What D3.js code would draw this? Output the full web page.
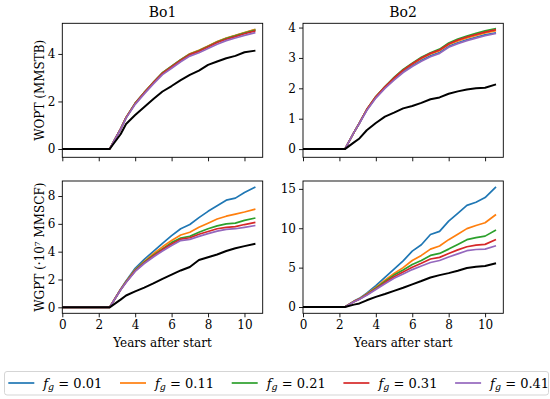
<!DOCTYPE html>
<html>
<head>
<meta charset="utf-8">
<script src="https://cdn.jsdelivr.net/npm/d3@7"></script>
<style>
  body { margin: 0; background: #fff; }
  svg text { font-family: "DejaVu Serif", serif; fill: #000; }
</style>
</head>
<body>
<div id="chart"></div>
<script>
// ---- data ----
var reservoirs = ["Bo1", "Bo2"];
var seriesNames = ["0.01", "0.11", "0.21", "0.31", "0.41"];
var seriesColors = ["#1f77b4", "#ff7f0e", "#2ca02c", "#d62728", "#9467bd"];

var xTicks = [0, 2, 4, 6, 8, 10];

// time (years after start) per reservoir
var timeBo1 = [0, 2.6, 3.2, 3.5, 4, 4.5, 5, 5.5, 6, 6.5, 7, 7.5, 8, 8.5, 9, 9.5, 10, 10.6];
var timeBo2 = [0, 2.3, 2.8, 3.1, 3.5, 4, 4.5, 5, 5.5, 6, 6.5, 7, 7.5, 8, 8.5, 9, 9.5, 10, 10.6];

// WOPT (MMSTB), Bo1
var woptBo1 = [
  [0, 0, 0.85, 1.33, 1.93, 2.38, 2.81, 3.21, 3.48, 3.76, 4.0, 4.14, 4.32, 4.51, 4.66, 4.77, 4.89, 5.03],
  [0, 0, 0.85, 1.33, 1.93, 2.38, 2.81, 3.21, 3.48, 3.76, 4.01, 4.15, 4.33, 4.52, 4.67, 4.78, 4.9, 5.04],
  [0, 0, 0.85, 1.32, 1.92, 2.37, 2.8, 3.2, 3.47, 3.75, 3.99, 4.13, 4.31, 4.5, 4.65, 4.76, 4.88, 5.0],
  [0, 0, 0.84, 1.32, 1.91, 2.36, 2.79, 3.18, 3.45, 3.73, 3.97, 4.11, 4.29, 4.48, 4.62, 4.73, 4.85, 4.97],
  [0, 0, 0.83, 1.3, 1.88, 2.32, 2.74, 3.13, 3.4, 3.67, 3.91, 4.05, 4.23, 4.41, 4.56, 4.67, 4.78, 4.9]
];
var woptBo1Base = [0, 0, 0.62, 1.05, 1.43, 1.77, 2.1, 2.42, 2.65, 2.9, 3.12, 3.3, 3.54, 3.68, 3.82, 3.92, 4.07, 4.14];

// WOPT (MMSTB), Bo2
var woptBo2 = [
  [0, 0, 0.55, 0.86, 1.29, 1.7, 2.02, 2.3, 2.55, 2.75, 2.92, 3.07, 3.18, 3.38, 3.5, 3.6, 3.68, 3.76, 3.83],
  [0, 0, 0.55, 0.86, 1.3, 1.72, 2.05, 2.34, 2.6, 2.8, 2.98, 3.13, 3.24, 3.44, 3.56, 3.66, 3.74, 3.82, 3.9],
  [0, 0, 0.55, 0.86, 1.3, 1.73, 2.06, 2.36, 2.62, 2.83, 3.02, 3.17, 3.29, 3.49, 3.62, 3.72, 3.81, 3.89, 3.97],
  [0, 0, 0.55, 0.86, 1.3, 1.72, 2.05, 2.34, 2.6, 2.81, 3.0, 3.15, 3.26, 3.46, 3.59, 3.69, 3.77, 3.85, 3.93],
  [0, 0, 0.55, 0.85, 1.27, 1.68, 2.0, 2.27, 2.52, 2.72, 2.89, 3.04, 3.15, 3.35, 3.47, 3.57, 3.65, 3.73, 3.81]
];
var woptBo2Base = [0, 0, 0.22, 0.35, 0.62, 0.86, 1.07, 1.2, 1.34, 1.42, 1.52, 1.64, 1.7, 1.82, 1.9, 1.96, 2.0, 2.02, 2.13];

// WGPT (1e7 MMSCF), Bo1
var wgptBo1 = [
  [0, 0, 1.3, 1.9, 2.8, 3.45, 4.02, 4.6, 5.15, 5.65, 5.95, 6.45, 6.9, 7.3, 7.7, 7.85, 8.25, 8.65],
  [0, 0, 1.28, 1.85, 2.7, 3.3, 3.85, 4.35, 4.8, 5.2, 5.4, 5.75, 6.05, 6.35, 6.55, 6.7, 6.85, 7.06],
  [0, 0, 1.27, 1.83, 2.65, 3.25, 3.75, 4.2, 4.65, 4.98, 5.1, 5.4, 5.65, 5.85, 6.0, 6.05, 6.25, 6.42],
  [0, 0, 1.26, 1.8, 2.62, 3.2, 3.7, 4.15, 4.55, 4.9, 5.0, 5.25, 5.45, 5.65, 5.75, 5.8, 5.95, 6.1],
  [0, 0, 1.25, 1.78, 2.58, 3.15, 3.62, 4.05, 4.45, 4.8, 4.88, 5.1, 5.3, 5.48, 5.6, 5.65, 5.75, 5.88]
];
var wgptBo1Base = [0, 0, 0.55, 0.85, 1.15, 1.42, 1.72, 2.05, 2.35, 2.65, 2.9, 3.4, 3.6, 3.8, 4.05, 4.25, 4.4, 4.57];

// WGPT (1e7 MMSCF), Bo2
var wgptBo2 = [
  [0, 0, 0.75, 1.1, 1.75, 2.7, 3.75, 4.8, 5.85, 7.1, 7.9, 9.2, 9.6, 10.9, 11.9, 12.9, 13.3, 13.9, 15.25],
  [0, 0, 0.72, 1.05, 1.65, 2.5, 3.4, 4.25, 5.0, 5.9, 6.55, 7.35, 7.75, 8.55, 9.25, 9.95, 10.35, 10.7, 11.75],
  [0, 0, 0.7, 1.02, 1.6, 2.4, 3.25, 4.05, 4.7, 5.4, 5.9, 6.55, 6.8, 7.35, 7.95, 8.55, 8.8, 9.0, 9.78],
  [0, 0, 0.68, 1.0, 1.55, 2.3, 3.1, 3.85, 4.45, 5.05, 5.55, 6.1, 6.3, 6.8, 7.25, 7.65, 7.85, 7.95, 8.58],
  [0, 0, 0.66, 0.98, 1.5, 2.22, 2.95, 3.65, 4.2, 4.75, 5.2, 5.65, 5.9, 6.35, 6.75, 7.15, 7.3, 7.35, 7.78]
];
var wgptBo2Base = [0, 0, 0.3, 0.45, 0.85, 1.28, 1.65, 2.05, 2.45, 2.88, 3.3, 3.75, 4.05, 4.3, 4.6, 4.95, 5.1, 5.2, 5.55];

var yTicksWopt = [[0, 2, 4], [0, 1, 2, 3, 4]];
var yTicksWgpt = [[0, 2, 4, 6, 8], [0, 5, 10, 15]];

// ---- layout ----
var W = 550, H = 399;
var colX = [[62.3, 262.7], [303, 503.3]];
var rowY = [[23.3, 157.3], [181, 313.3]];

var panels = [
  {row: 0, col: 0, t: timeBo1, ys: woptBo1, base: woptBo1Base, dom: [-0.35, 5.29], ticks: yTicksWopt[0]},
  {row: 0, col: 1, t: timeBo2, ys: woptBo2, base: woptBo2Base, dom: [-0.27, 4.14], ticks: yTicksWopt[1]},
  {row: 1, col: 0, t: timeBo1, ys: wgptBo1, base: wgptBo1Base, dom: [-0.43, 9.08], ticks: yTicksWgpt[0]},
  {row: 1, col: 1, t: timeBo2, ys: wgptBo2, base: wgptBo2Base, dom: [-0.8, 16.0], ticks: yTicksWgpt[1]}
];

var svg = d3.select("#chart").append("svg")
  .attr("width", W).attr("height", H);

panels.forEach(function(p) {
  var x = d3.scaleLinear().domain([0, 11]).range(colX[p.col]);
  var y = d3.scaleLinear().domain(p.dom).range([rowY[p.row][1], rowY[p.row][0]]);
  var g = svg.append("g");

  // clip to axes
  var clipId = "clip" + p.row + p.col;
  g.append("clipPath").attr("id", clipId).append("rect")
    .attr("x", colX[p.col][0]).attr("y", rowY[p.row][0])
    .attr("width", colX[p.col][1] - colX[p.col][0])
    .attr("height", rowY[p.row][1] - rowY[p.row][0]);

  var line = d3.line()
    .x(function(d, i) { return x(p.t[i]); })
    .y(function(d) { return y(d); });

  var lines = g.append("g").attr("clip-path", "url(#" + clipId + ")");
  p.ys.forEach(function(s, k) {
    lines.append("path").datum(s)
      .attr("d", line)
      .attr("fill", "none")
      .attr("stroke", seriesColors[k])
      .attr("stroke-width", 1.7)
      .attr("stroke-linejoin", "round");
  });
  lines.append("path").datum(p.base)
    .attr("d", line)
    .attr("fill", "none")
    .attr("stroke", "#000")
    .attr("stroke-width", 2)
    .attr("stroke-linejoin", "round");

  // axes
  var xAxis = d3.axisBottom(x).tickValues(xTicks).tickFormat(d3.format("d"))
    .tickSizeInner(4).tickSizeOuter(0).tickPadding(3);
  if (p.row === 0) xAxis.tickFormat("");
  var gx = g.append("g")
    .attr("transform", "translate(0," + rowY[p.row][1] + ")")
    .call(xAxis);
  var gy = g.append("g")
    .attr("transform", "translate(" + colX[p.col][0] + ",0)")
    .call(d3.axisLeft(y).tickValues(p.ticks).tickFormat(d3.format("d"))
      .tickSizeInner(4).tickSizeOuter(0).tickPadding(3));
  [gx, gy].forEach(function(a) {
    a.attr("font-family", null);
    a.select(".domain").remove();
    a.selectAll(".tick line").attr("stroke", "#000").attr("stroke-width", 0.9);
    a.selectAll(".tick text").attr("font-size", 12).attr("fill", "#000");
  });

  // frame
  g.append("rect")
    .attr("x", colX[p.col][0]).attr("y", rowY[p.row][0])
    .attr("width", colX[p.col][1] - colX[p.col][0])
    .attr("height", rowY[p.row][1] - rowY[p.row][0])
    .attr("fill", "none").attr("stroke", "#000").attr("stroke-width", 0.9);

  if (p.row === 0) {
    g.append("text")
      .attr("x", (colX[p.col][0] + colX[p.col][1]) / 2)
      .attr("y", 17)
      .attr("text-anchor", "middle")
      .attr("font-size", 14)
      .text(reservoirs[p.col]);
  }
  if (p.row === 1) {
    g.append("text")
      .attr("x", (colX[p.col][0] + colX[p.col][1]) / 2)
      .attr("y", 347)
      .attr("text-anchor", "middle")
      .attr("font-size", 12)
      .text("Years after start");
  }
});

// y labels
svg.append("text")
  .attr("transform", "translate(44," + (rowY[0][0] + rowY[0][1]) / 2 + ") rotate(-90)")
  .attr("text-anchor", "middle")
  .attr("font-size", 12)
  .text("WOPT (MMSTB)");
svg.append("text")
  .attr("transform", "translate(44," + (rowY[1][0] + rowY[1][1]) / 2 + ") rotate(-90)")
  .attr("text-anchor", "middle")
  .attr("font-size", 12)
  .text("WGPT (\u00b710\u2077 MMSCF)");

// legend
var leg = svg.append("g");
leg.append("rect")
  .attr("x", 4.5).attr("y", 371.5)
  .attr("width", 544).attr("height", 23.5)
  .attr("rx", 2.5)
  .attr("fill", "#fff").attr("stroke", "#d0d0d0").attr("stroke-width", 0.9);
seriesNames.forEach(function(name, k) {
  var lx = 8.3 + k * 111.7;
  leg.append("line")
    .attr("x1", lx).attr("x2", lx + 26)
    .attr("y1", 383).attr("y2", 383)
    .attr("stroke", seriesColors[k]).attr("stroke-width", 1.7);
  var t = leg.append("text")
    .attr("x", lx + 35).attr("y", 387.5)
    .attr("font-size", 13);
  t.append("tspan").attr("font-style", "italic").text("f");
  t.append("tspan").attr("font-style", "italic").attr("font-size", 9.5).attr("dy", 2.5).text("g");
  t.append("tspan").attr("dy", -2.5).text(" = " + name);
});
</script>
</body>
</html>
